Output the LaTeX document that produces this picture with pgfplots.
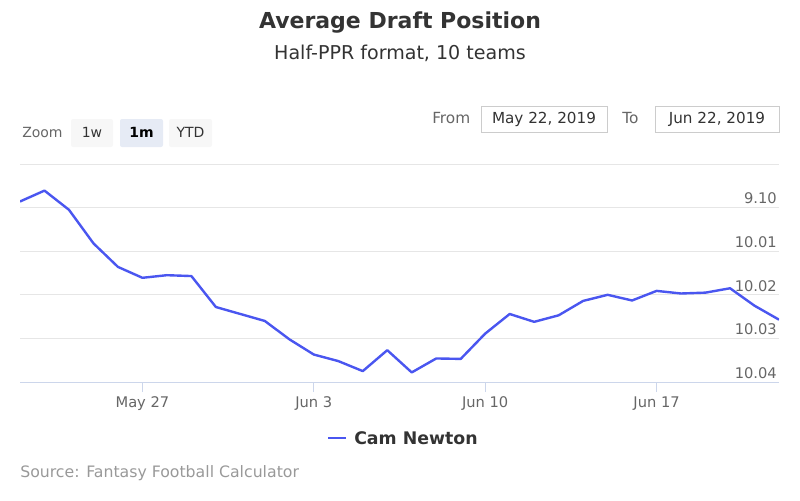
\documentclass[border=0pt]{standalone}
\usepackage{pgfplots}
\pgfplotsset{compat=1.18}
\usepackage{fontspec}
\setmainfont{DejaVu Sans}
\definecolor{linecol}{RGB}{74,86,240}
\definecolor{gridcol}{HTML}{E6E6E6}
\definecolor{axiscol}{HTML}{CCD6EB}
\definecolor{txtcol}{HTML}{666666}
\definecolor{titlecol}{HTML}{333333}
\definecolor{srccol}{HTML}{999999}
\definecolor{btnbg}{HTML}{F7F7F7}
\definecolor{btnsel}{HTML}{E6EBF5}
\definecolor{boxcol}{HTML}{CCCCCC}
\begin{document}
\begin{tikzpicture}
\path[use as bounding box] (0,0) rectangle (600pt,-375pt);
\begin{scope}[x=0.75pt,y=-0.75pt]
\node[font=\bfseries\fontsize{16.5}{19}\selectfont, text=titlecol] at (400,23) {Average Draft Position};
\node[font=\fontsize{14.3}{17}\selectfont, text=titlecol] at (400,53) {Half-PPR format, 10 teams};
% range selector
\node[font=\fontsize{10.5}{12}\selectfont, text=txtcol, anchor=west, inner sep=0pt] at (22,132) {Zoom};
\fill[btnbg, rounded corners=1.5pt] (71,119) rectangle (113,147);
\fill[btnsel, rounded corners=1.5pt] (120,119) rectangle (163,147);
\fill[btnbg, rounded corners=1.5pt] (169,119) rectangle (212,147);
\node[font=\fontsize{10.5}{12}\selectfont, text=titlecol] at (92,132) {1w};
\node[font=\bfseries\fontsize{10.5}{12}\selectfont, text=black] at (141.5,132) {1m};
\node[font=\fontsize{10.5}{12}\selectfont, text=titlecol] at (190.5,132) {YTD};
\node[font=\fontsize{11.5}{13}\selectfont, text=txtcol, anchor=west, inner sep=0pt] at (432,118) {From};
\draw[boxcol, line width=0.75pt] (481,106) rectangle (607,132);
\node[font=\fontsize{11.4}{13}\selectfont, text=titlecol] at (544,119) {May 22, 2019};
\node[font=\fontsize{11.5}{13}\selectfont, text=txtcol, anchor=west, inner sep=0pt] at (622,118) {To};
\draw[boxcol, line width=0.75pt] (655,106) rectangle (779,132);
\node[font=\fontsize{11.4}{13}\selectfont, text=titlecol] at (717,119) {Jun 22, 2019};
% legend
\draw[linecol, line width=1.5pt] (328,438) -- (346,438);
\node[font=\bfseries\fontsize{13}{15}\selectfont, text=titlecol, anchor=west, inner sep=0pt] at (354,438) {Cam Newton};
% source
\node[font=\fontsize{11.8}{14}\selectfont, text=srccol, anchor=west, inner sep=0pt] at (20,473) {Source: Fantasy Football Calculator};
\end{scope}
\begin{axis}[
  at={(15pt,-286.5pt)}, anchor=south west,
  scale only axis, width=569.25pt, height=163.5pt,
  xmin=0, xmax=31, ymin=89, ymax=94, y dir=reverse,
  axis line style={draw=none},
  ytick={89,90,91,92,93,94},
  yticklabels={,9.10,10.01,10.02,10.03,10.04},
  yticklabel pos=right,
  ytick style={draw=none},
  yticklabel style={anchor=south east, inner sep=0pt, xshift=-1.5pt, yshift=2.5pt, font=\fontsize{11}{13}\selectfont, text=txtcol},
  ymajorgrids, grid style={gridcol, line width=0.75pt},
  xtick={5,12,19,26},
  xticklabels={May 27,Jun 3,Jun 10,Jun 17},
  xtick pos=left,
  xticklabel pos=left,
  xtick align=outside,
  major tick length=7.5pt,
  xtick style={axiscol, line width=0.75pt},
  xticklabel style={font=\fontsize{11}{13}\selectfont, text=txtcol},
  clip=true,
]
\addplot[linecol, line width=1.8pt, line join=round] table[x=d, y=v] {
d v
0 89.86
1 89.61
2 90.05
3 90.82
4 91.36
5 91.61
6 91.55
7 91.57
8 92.28
9 92.44
10 92.60
11 93.02
12 93.37
13 93.52
14 93.75
15 93.27
16 93.78
17 93.46
18 93.47
19 92.89
20 92.44
21 92.62
22 92.47
23 92.14
24 92.00
25 92.13
26 91.91
27 91.97
28 91.95
29 91.85
30 92.25
31 92.57
};
\draw[axiscol, line width=0.75pt] (axis cs:0,94) -- (axis cs:31,94);
\end{axis}
\end{tikzpicture}
\end{document}
